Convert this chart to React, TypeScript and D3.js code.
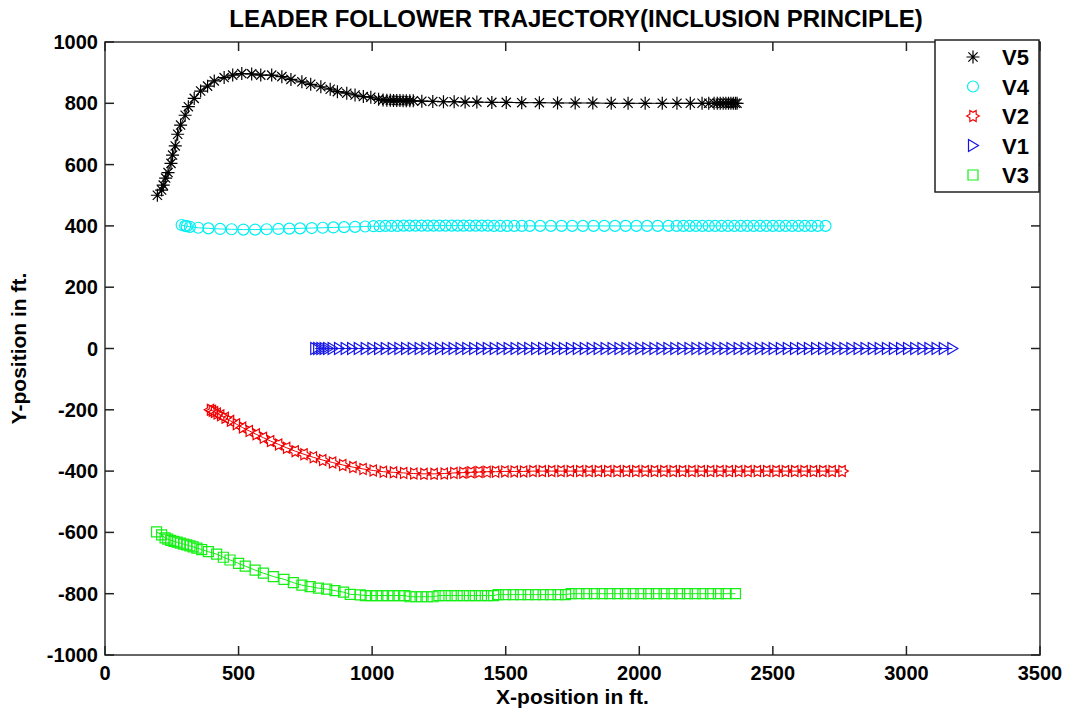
import React from 'react';
import * as d3 from 'd3';

// Trajectory samples, [x ft, y ft]
const v5: [number, number][] = [
  [196, 500], [212, 517], [218, 533], [227, 556], [236, 574], [247, 604], [253, 631], [263, 661],
  [272, 699], [283, 729], [300, 761], [312, 789], [334, 816], [358, 840], [384, 856], [409, 873],
  [446, 884], [478, 892], [512, 897], [549, 896], [583, 892], [624, 892], [662, 887], [696, 878],
  [737, 870], [770, 862], [808, 854], [843, 846], [870, 838], [905, 833], [936, 827], [967, 822],
  [995, 820], [1024, 813], [1041, 811], [1055, 810], [1068, 810], [1080, 809], [1092, 809], [1104, 809],
  [1116, 808], [1128, 808], [1141, 808], [1154, 808], [1186, 807], [1227, 806], [1267, 805], [1307, 805],
  [1348, 804], [1392, 804], [1448, 803], [1502, 803], [1560, 802], [1626, 802], [1694, 801], [1760, 801],
  [1826, 801], [1895, 800], [1958, 800], [2022, 800], [2086, 800], [2141, 800], [2191, 800], [2235, 800],
  [2260, 800], [2280, 800], [2292, 800], [2303, 800], [2314, 800], [2324, 800], [2334, 800], [2343, 800],
  [2352, 800], [2360, 800], [2366, 800],
];

const v4: [number, number][] = [
  [287, 403], [300, 400], [306, 399], [318, 397], [349, 394], [387, 392], [431, 390], [474, 389],
  [518, 388], [562, 388], [605, 389], [649, 390], [690, 391], [730, 392], [774, 393], [815, 394],
  [855, 395], [895, 396], [936, 397], [974, 398], [1005, 399], [1028, 399], [1050, 400], [1072, 400],
  [1095, 400], [1118, 401], [1140, 401], [1162, 401], [1185, 401], [1208, 401], [1230, 401], [1252, 401],
  [1275, 401], [1298, 401], [1320, 401], [1342, 401], [1365, 401], [1388, 401], [1410, 401], [1433, 401],
  [1456, 400], [1480, 400], [1505, 400], [1532, 400], [1560, 400], [1590, 400], [1629, 400], [1669, 400],
  [1709, 400], [1749, 400], [1789, 400], [1829, 400], [1869, 400], [1909, 400], [1949, 400], [1989, 400],
  [2029, 400], [2069, 400], [2109, 400], [2140, 400], [2165, 400], [2188, 400], [2212, 400], [2236, 400],
  [2260, 400], [2284, 400], [2308, 400], [2332, 400], [2356, 400], [2380, 400], [2404, 400], [2428, 400],
  [2452, 400], [2476, 400], [2500, 400], [2524, 400], [2548, 400], [2572, 400], [2596, 400], [2620, 400],
  [2644, 400], [2668, 400], [2697, 400],
];

const v2: [number, number][] = [
  [395, -200], [402, -203], [410, -207], [420, -212], [433, -218], [450, -226], [470, -236], [492, -247],
  [515, -258], [540, -269], [566, -280], [593, -291], [620, -302], [650, -313], [680, -324], [712, -335],
  [745, -345], [780, -355], [815, -364], [852, -372], [890, -380], [928, -387], [966, -393], [1004, -398],
  [1042, -402], [1080, -404], [1118, -406], [1156, -408], [1194, -409], [1232, -409], [1270, -408], [1306, -406],
  [1340, -405], [1370, -404], [1400, -403], [1430, -402], [1462, -402], [1497, -401], [1532, -401], [1567, -401],
  [1602, -400], [1637, -400], [1672, -400], [1707, -400], [1742, -400], [1777, -400], [1812, -400], [1847, -400],
  [1882, -400], [1917, -400], [1952, -400], [1987, -400], [2022, -400], [2057, -400], [2092, -400], [2127, -400],
  [2162, -400], [2197, -400], [2232, -400], [2267, -400], [2302, -400], [2337, -400], [2372, -400], [2407, -400],
  [2442, -400], [2477, -400], [2512, -400], [2547, -400], [2582, -400], [2617, -400], [2652, -400], [2687, -400],
  [2722, -400], [2759, -400],
];

const v1: [number, number][] = [
  [787, 0], [798, 0], [810, 0], [822, 0], [835, 0], [852, 0], [876, 0], [901, 0], [925, 0], [950, 0],
  [976, 0], [1001, 0], [1026, 0], [1051, 0], [1077, 0], [1102, 0], [1127, 0], [1152, 0], [1178, 0], [1203, 0],
  [1229, 0], [1254, 0], [1280, 0], [1305, 0], [1331, 0], [1356, 0], [1382, 0], [1408, 0], [1433, 0], [1459, 0],
  [1485, 0], [1511, 0], [1537, 0], [1562, 0], [1588, 0], [1614, 0], [1640, 0], [1666, 0], [1692, 0], [1718, 0],
  [1744, 0], [1770, 0], [1796, 0], [1822, 0], [1848, 0], [1874, 0], [1900, 0], [1926, 0], [1952, 0], [1978, 0],
  [2004, 0], [2030, 0], [2057, 0], [2083, 0], [2109, 0], [2135, 0], [2161, 0], [2188, 0], [2214, 0], [2240, 0],
  [2266, 0], [2293, 0], [2319, 0], [2345, 0], [2372, 0], [2398, 0], [2424, 0], [2451, 0], [2477, 0], [2503, 0],
  [2530, 0], [2556, 0], [2583, 0], [2609, 0], [2635, 0], [2662, 0], [2688, 0], [2715, 0], [2741, 0], [2768, 0],
  [2794, 0], [2821, 0], [2847, 0], [2874, 0], [2900, 0], [2927, 0], [2953, 0], [2980, 0], [3006, 0], [3033, 0],
  [3060, 0], [3086, 0], [3113, 0], [3140, 0], [3172, 0],
];

const v3: [number, number][] = [
  [193, -598], [212, -608], [225, -618], [235, -622], [246, -626], [258, -629], [270, -632], [282, -635],
  [294, -638], [306, -641], [318, -644], [330, -647], [344, -651], [362, -656], [387, -663], [418, -671],
  [443, -681], [468, -690], [500, -701], [525, -710], [562, -723], [593, -733], [630, -744], [670, -753],
  [705, -764], [737, -772], [768, -777], [799, -782], [830, -785], [861, -790], [893, -795], [918, -802],
  [955, -804], [975, -806], [996, -806], [1017, -806], [1038, -806], [1059, -806], [1080, -806], [1101, -806],
  [1122, -806], [1142, -810], [1164, -810], [1185, -810], [1206, -810], [1228, -810], [1250, -806], [1273, -806],
  [1296, -806], [1318, -806], [1341, -806], [1364, -806], [1386, -806], [1409, -806], [1432, -806], [1455, -806],
  [1472, -803], [1500, -803], [1528, -803], [1556, -803], [1584, -803], [1612, -803], [1640, -803], [1668, -803],
  [1696, -803], [1724, -803], [1745, -800], [1774, -800], [1803, -800], [1832, -800], [1861, -800], [1890, -800],
  [1919, -800], [1948, -800], [1977, -800], [2006, -800], [2035, -800], [2064, -800], [2093, -800], [2122, -800],
  [2151, -800], [2180, -800], [2209, -800], [2238, -800], [2267, -800], [2296, -800], [2325, -800], [2360, -800],
];

const xTicks = [0, 500, 1000, 1500, 2000, 2500, 3000, 3500];
const yTicks = [-1000, -800, -600, -400, -200, 0, 200, 400, 600, 800, 1000];

type Marker = 'asterisk' | 'circle' | 'hexagram' | 'triangle' | 'square';

const series: { name: string; data: [number, number][]; color: string; marker: Marker }[] = [
  { name: 'V5', data: v5, color: '#000000', marker: 'asterisk' },
  { name: 'V4', data: v4, color: '#00eef2', marker: 'circle' },
  { name: 'V2', data: v2, color: '#f00000', marker: 'hexagram' },
  { name: 'V1', data: v1, color: '#1414e6', marker: 'triangle' },
  { name: 'V3', data: v3, color: '#14f014', marker: 'square' },
];

function markerPath(m: Marker): string {
  switch (m) {
    case 'asterisk': {
      const s = 6.5, k = 4.6;
      return `M0,${-s}L0,${s}M${-s},0L${s},0M${-k},${-k}L${k},${k}M${-k},${k}L${k},${-k}`;
    }
    case 'circle': {
      const r = 5.5;
      return `M${r},0A${r},${r} 0 1,1 ${-r},0A${r},${r} 0 1,1 ${r},0Z`;
    }
    case 'hexagram': {
      const R = 6.3, r = R / Math.sqrt(3);
      const pts: string[] = [];
      for (let i = 0; i < 12; i++) {
        const a = (Math.PI / 6) * i;
        const rad = i % 2 === 0 ? R : r;
        pts.push(`${(rad * Math.cos(a)).toFixed(2)},${(rad * Math.sin(a)).toFixed(2)}`);
      }
      return 'M' + pts.join('L') + 'Z';
    }
    case 'triangle':
      return 'M-4.5,-6L5.5,0L-4.5,6Z';
    case 'square':
      return 'M-5,-5L5,-5L5,5L-5,5Z';
  }
}

const W = 1069;
const H = 715;
const margin = { top: 42, right: 29, bottom: 60, left: 105 };

const App: React.FC = () => {
  const x = d3.scaleLinear().domain([0, 3500]).range([margin.left, W - margin.right]);
  const y = d3.scaleLinear().domain([-1000, 1000]).range([H - margin.bottom, margin.top]);
  const line = d3.line<[number, number]>().x(d => x(d[0])).y(d => y(d[1]));
  const [x0, x1] = x.range();
  const [y0, y1] = y.range();
  const tickLen = 9;
  const font = '"Liberation Sans", Arial, sans-serif';

  return (
    <svg width={W} height={H} style={{ position: 'absolute', left: 0, top: 0, background: '#fff' }}
      fontFamily={font} fontWeight="bold">
      <rect x={0} y={0} width={W} height={H} fill="#fff" />

      {/* series */}
      {series.map(s => (
        <g key={s.name}>
          <path d={line(s.data) ?? ''} fill="none" stroke={s.color} strokeWidth={1} />
          {s.data.map((d, i) => (
            <path key={i} d={markerPath(s.marker)} transform={`translate(${x(d[0])},${y(d[1])})`}
              fill="none" stroke={s.color} strokeWidth={1.2} />
          ))}
        </g>
      ))}

      {/* axes box and ticks */}
      <rect x={x0} y={y1} width={x1 - x0} height={y0 - y1} fill="none" stroke="#333" strokeWidth={1.5} />
      {xTicks.map(t => (
        <g key={'x' + t}>
          <line x1={x(t)} x2={x(t)} y1={y0} y2={y0 - tickLen} stroke="#222" strokeWidth={1.5} />
          <line x1={x(t)} x2={x(t)} y1={y1} y2={y1 + tickLen} stroke="#222" strokeWidth={1.5} />
          <text x={x(t)} y={y0 + 25} textAnchor="middle" fontSize={20} fill="#000">{t}</text>
        </g>
      ))}
      {yTicks.map(t => (
        <g key={'y' + t}>
          <line x1={x0} x2={x0 + tickLen} y1={y(t)} y2={y(t)} stroke="#222" strokeWidth={1.5} />
          <line x1={x1} x2={x1 - tickLen} y1={y(t)} y2={y(t)} stroke="#222" strokeWidth={1.5} />
          <text x={x0 - 7} y={y(t) + 7} textAnchor="end" fontSize={20} fill="#000">{t}</text>
        </g>
      ))}

      {/* title and labels */}
      <text x={576} y={27} textAnchor="middle" fontSize={24} fill="#000">
        LEADER FOLLOWER TRAJECTORY(INCLUSION PRINCIPLE)
      </text>
      <text x={(x0 + x1) / 2} y={704} textAnchor="middle" fontSize={21} fill="#000">X-position in ft.</text>
      <text transform={`translate(26,${(y0 + y1) / 2}) rotate(-90)`} textAnchor="middle" fontSize={21} fill="#000">
        Y-position in ft.
      </text>

      {/* legend */}
      <g>
        <rect x={935} y={40} width={104} height={152} fill="#fff" stroke="#222" strokeWidth={1.5} />
        {series.map((s, i) => {
          const cy = 57 + i * 29.5;
          return (
            <g key={'leg' + s.name}>
              <path d={markerPath(s.marker)} transform={`translate(973,${cy})`} fill="none"
                stroke={s.color} strokeWidth={1.2} />
              <text x={1002} y={cy + 8} fontSize={22} fill="#000">{s.name}</text>
            </g>
          );
        })}
      </g>
    </svg>
  );
};

export default App;
